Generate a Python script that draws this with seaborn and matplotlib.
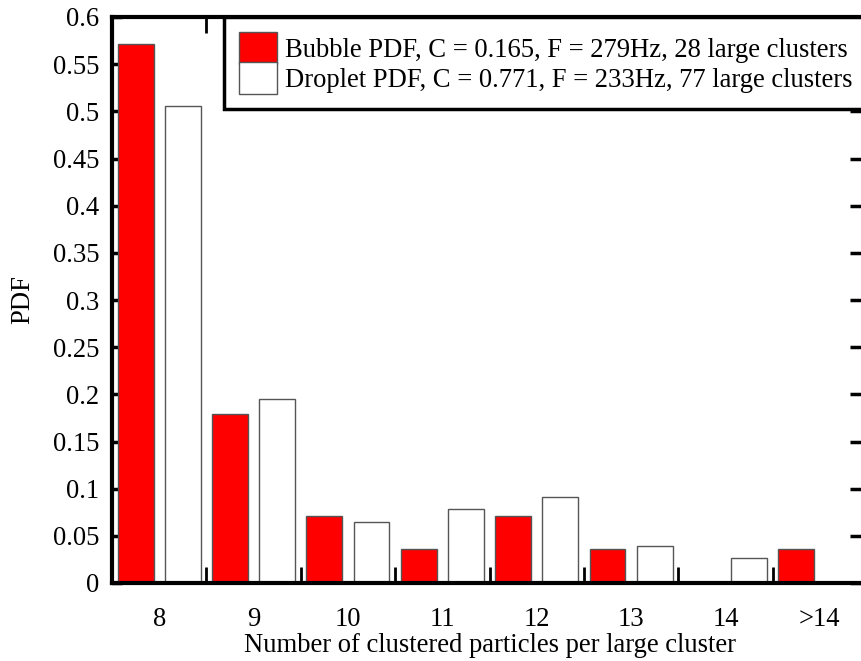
import matplotlib
matplotlib.use("Agg")
import matplotlib.pyplot as plt
import seaborn as sns
import pandas as pd
import numpy as np

categories = ["8", "9", "10", "11", "12", "13", "14", ">14"]
bubble_pdf = [0.571, 0.179, 0.071, 0.036, 0.071, 0.036, 0.0, 0.036]
droplet_pdf = [0.506, 0.195, 0.065, 0.078, 0.091, 0.039, 0.026, 0.0]
series_labels = ["Bubble PDF, C = 0.165, F = 279Hz, 28 large clusters",
                 "Droplet PDF, C = 0.771, F = 233Hz, 77 large clusters"]
yticks = [0, 0.05, 0.1, 0.15, 0.2, 0.25, 0.3, 0.35, 0.4, 0.45, 0.5, 0.55, 0.6]
yticklabels = ["0", "0.05", "0.1", "0.15", "0.2", "0.25", "0.3", "0.35",
               "0.4", "0.45", "0.5", "0.55", "0.6"]

df = pd.DataFrame({
    "size": categories * 2,
    "pdf": bubble_pdf + droplet_pdf,
    "series": [series_labels[0]] * len(categories) + [series_labels[1]] * len(categories),
})

sns.set_style("white")
serif = ["Liberation Serif", "DejaVu Serif"]
plt.rcParams["font.family"] = serif

fig = plt.figure(figsize=(8.61, 6.61), dpi=100)
ax = fig.add_axes([112 / 861, 1 - 583 / 661, (867 - 112) / 861, (583 - 17) / 661])

sns.barplot(data=df, x="size", y="pdf", hue="series", order=categories,
            hue_order=series_labels, saturation=1,
            palette={series_labels[0]: "#ff0000", series_labels[1]: "#ffffff"},
            width=1.0, gap=0.24, edgecolor="#555555", linewidth=1.0, ax=ax)

ax.set_xlim(-0.5, len(categories) - 0.5)
ax.set_ylim(0, 0.6)
ax.set_yticks(yticks)
ax.set_yticklabels(yticklabels)
ax.set_xticks(range(len(categories)))
ax.set_xticklabels(categories)
ax.set_xticks(np.arange(0.5, len(categories) - 0.5, 1.0), minor=True)

fs = 19.2
ax.tick_params(axis="x", which="major", length=0, pad=17, labelsize=fs)
ax.tick_params(axis="x", which="minor", direction="in", length=11.5, width=2,
               top=True, bottom=True, color="black")
ax.tick_params(axis="y", which="major", direction="in", length=7, width=2.5,
               left=True, right=True, labelsize=fs, pad=9, color="black")
for t in ax.yaxis.get_major_ticks():
    t.tick2line.set_markersize(12)
for lbl in ax.get_xticklabels() + ax.get_yticklabels():
    lbl.set_fontfamily(serif)
    lbl.set_color("black")

for s in ax.spines.values():
    s.set_visible(True)
    s.set_linewidth(3)
    s.set_color("black")

ax.set_xlabel("Number of clustered particles per large cluster", fontsize=fs,
              labelpad=1, color="black")
ax.set_ylabel("PDF", fontsize=fs, labelpad=13, color="black")

sns.move_legend(ax, "upper right", bbox_to_anchor=(1, 1), title=None,
                fontsize=fs, frameon=True, fancybox=False, framealpha=1,
                edgecolor="black", borderaxespad=0, borderpad=0.55,
                labelspacing=-0.1, handlelength=1.42, handleheight=1.5,
                handletextpad=0.3)
leg = ax.get_legend()
leg.get_frame().set_linewidth(2.5)
leg.set_zorder(10)
for t in leg.get_texts():
    t.set_fontfamily(serif)
    t.set_color("black")

fig.savefig("out.png", dpi=100)
